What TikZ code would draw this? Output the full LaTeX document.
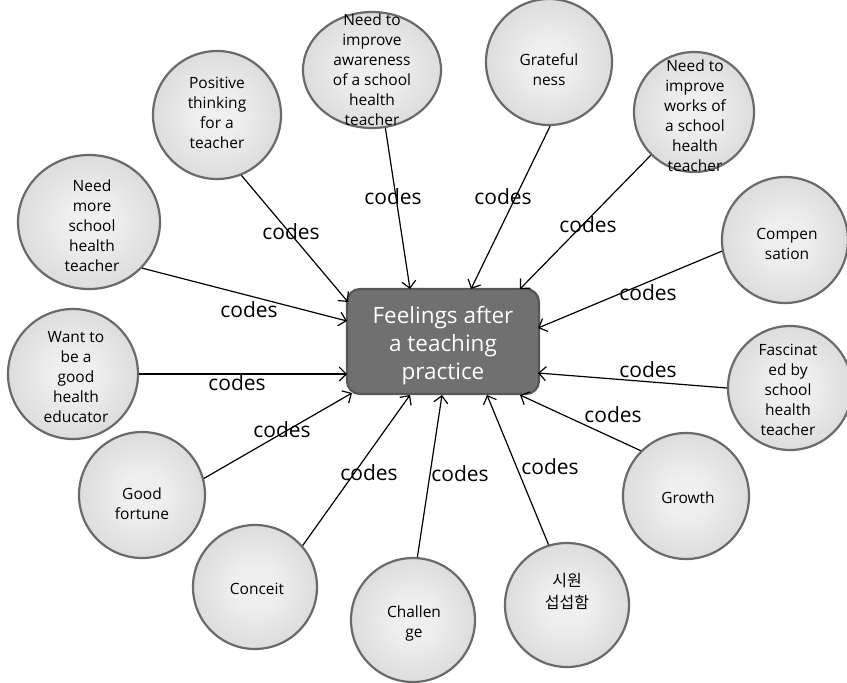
\documentclass[tikz,border=0pt]{standalone}
\usepackage{fontspec}
\setmainfont{Open Sans}
\newfontfamily\kr{Noto Sans CJK KR}
\usetikzlibrary{arrows.meta,shapes.geometric}
\definecolor{rim}{HTML}{6a6a6a}
\definecolor{boxfill}{HTML}{707070}
\definecolor{boxrim}{HTML}{575757}
\definecolor{bubin}{HTML}{EFEFEF}
\definecolor{bubout}{HTML}{C2C2C2}
\pgfdeclareradialshading{bubshade}{\pgfpoint{0bp}{0bp}}{color(0bp)=(bubin); color(8bp)=(bubin); color(50bp)=(bubout)}
\tikzset{
  bubble/.style={shape=ellipse, draw=rim, line width=2.2pt, shading=bubshade, inner sep=0pt},
  btext/.style={align=center, font=\fontsize{15.5}{20}\selectfont, text=black, inner sep=0pt},
  codelbl/.style={font=\fontsize{21}{24}\selectfont, inner sep=0pt},
  link/.style={-{Straight Barb[length=7pt,width=14pt,line width=1.2pt]}, line width=1.2pt, black},
}
\begin{document}
\begin{tikzpicture}[x=1pt,y=-1pt]
\useasboundingbox (0,0) rectangle (847,683);
% centre box
\node[draw=boxrim, fill=boxfill, line width=2.2pt, rounded corners=13pt, minimum width=192pt, minimum height=105pt, inner sep=0pt] (box) at (443,341.5) {};
\node[align=center, text=white, font=\fontsize{22.5}{28}\selectfont] (boxtext) at (443,346) {Feelings after\\a teaching\\practice};
% bubbles
\node[bubble, minimum width=128pt, minimum height=128pt] (c1) at (217,115) {};
\node[btext] (t1) at (217,113) {Positive\\thinking\\for a\\teacher};
\node[bubble, minimum width=138pt, minimum height=116pt] (c2) at (372,70) {};
\node[btext] (t2) at (372,70) {Need to\\improve\\awareness\\of a school\\health\\teacher};
\node[bubble, minimum width=126pt, minimum height=126pt] (c3) at (549,62) {};
\node[btext] (t3) at (549,70) {Grateful\\ness};
\node[bubble, minimum width=120pt, minimum height=120pt] (c4) at (694,112) {};
\node[btext] (t4) at (695,116) {Need to\\improve\\works of\\a school\\health\\teacher};
\node[bubble, minimum width=126pt, minimum height=126pt] (c5) at (785,240) {};
\node[btext] (t5) at (787,244) {Compen\\sation};
\node[bubble, minimum width=124pt, minimum height=124pt] (c6) at (790,388) {};
\node[btext] (t6) at (788,390) {Fascinat\\ed by\\school\\health\\teacher};
\node[bubble, minimum width=126pt, minimum height=126pt] (c7) at (686,496) {};
\node[btext] (t7) at (688,498) {Growth};
\node[bubble, minimum width=124pt, minimum height=124pt] (c8) at (567,605) {};
\node[btext, font=\fontsize{16}{22}\selectfont] (t8) at (567,591) {\kr 시원\\\kr 섭섭함};
\node[bubble, minimum width=124pt, minimum height=124pt] (c9) at (413,620) {};
\node[btext] (t9) at (414,623) {Challen\\ge};
\node[bubble, minimum width=124pt, minimum height=124pt] (c10) at (255,587) {};
\node[btext] (t10) at (257,589) {Conceit};
\node[bubble, minimum width=126pt, minimum height=126pt] (c11) at (142,495) {};
\node[btext] (t11) at (142,504) {Good\\fortune};
\node[bubble, minimum width=130pt, minimum height=130pt] (c12) at (73,374) {};
\node[btext] (t12) at (76,377) {Want to\\be a\\good\\health\\educator};
\node[bubble, minimum width=142pt, minimum height=134pt] (c13) at (89,222) {};
\node[btext] (t13) at (92,226) {Need\\more\\school\\health\\teacher};
% end points on the box
\coordinate (e1) at (348,302);
\coordinate (e2) at (410,289);
\coordinate (e3) at (471,289);
\coordinate (e4) at (520,289);
\coordinate (e5) at (538,328);
\coordinate (e6) at (538,373);
\coordinate (e7) at (520,395);
\coordinate (e8) at (487,395);
\coordinate (e9) at (442,395);
\coordinate (e10) at (410,395);
\coordinate (e11) at (352,393);
\coordinate (e12) at (347,374);
\coordinate (e13) at (347,321);
% connectors
\draw[link] (c1.-68) -- (e1);
\draw[link] (c2.-77) -- (e2);
\draw[link] (c3.-89) -- (e3);
\draw[link] (c4.-135) -- (e4);
\draw[link] (c5.190) -- (e5);
\draw[link] (c6.180) -- (e6);
\draw[link] (c7.135) -- (e7);
\draw[link] (c8.107.5) -- (e8);
\draw[link] (c9.86.4) -- (e9);
\draw[link] (c10.41.8) -- (e10);
\draw[link] (c11.15.5) -- (e11);
\draw[link] (c12.0) -- (e12);
\draw[link] (c13.-41.8) -- (e13);
% labels
\node[codelbl] (l1) at (291,232) {codes};
\node[codelbl] (l2) at (393,197) {codes};
\node[codelbl] (l3) at (503,197) {codes};
\node[codelbl] (l4) at (588,225) {codes};
\node[codelbl] (l5) at (648,293) {codes};
\node[codelbl] (l6) at (648,370) {codes};
\node[codelbl] (l7) at (613,415) {codes};
\node[codelbl] (l8) at (550,467) {codes};
\node[codelbl] (l9) at (460,474) {codes};
\node[codelbl] (l10) at (369,473) {codes};
\node[codelbl] (l11) at (282,430) {codes};
\node[codelbl] (l12) at (237,383) {codes};
\node[codelbl] (l13) at (249,310) {codes};
\end{tikzpicture}
\end{document}
